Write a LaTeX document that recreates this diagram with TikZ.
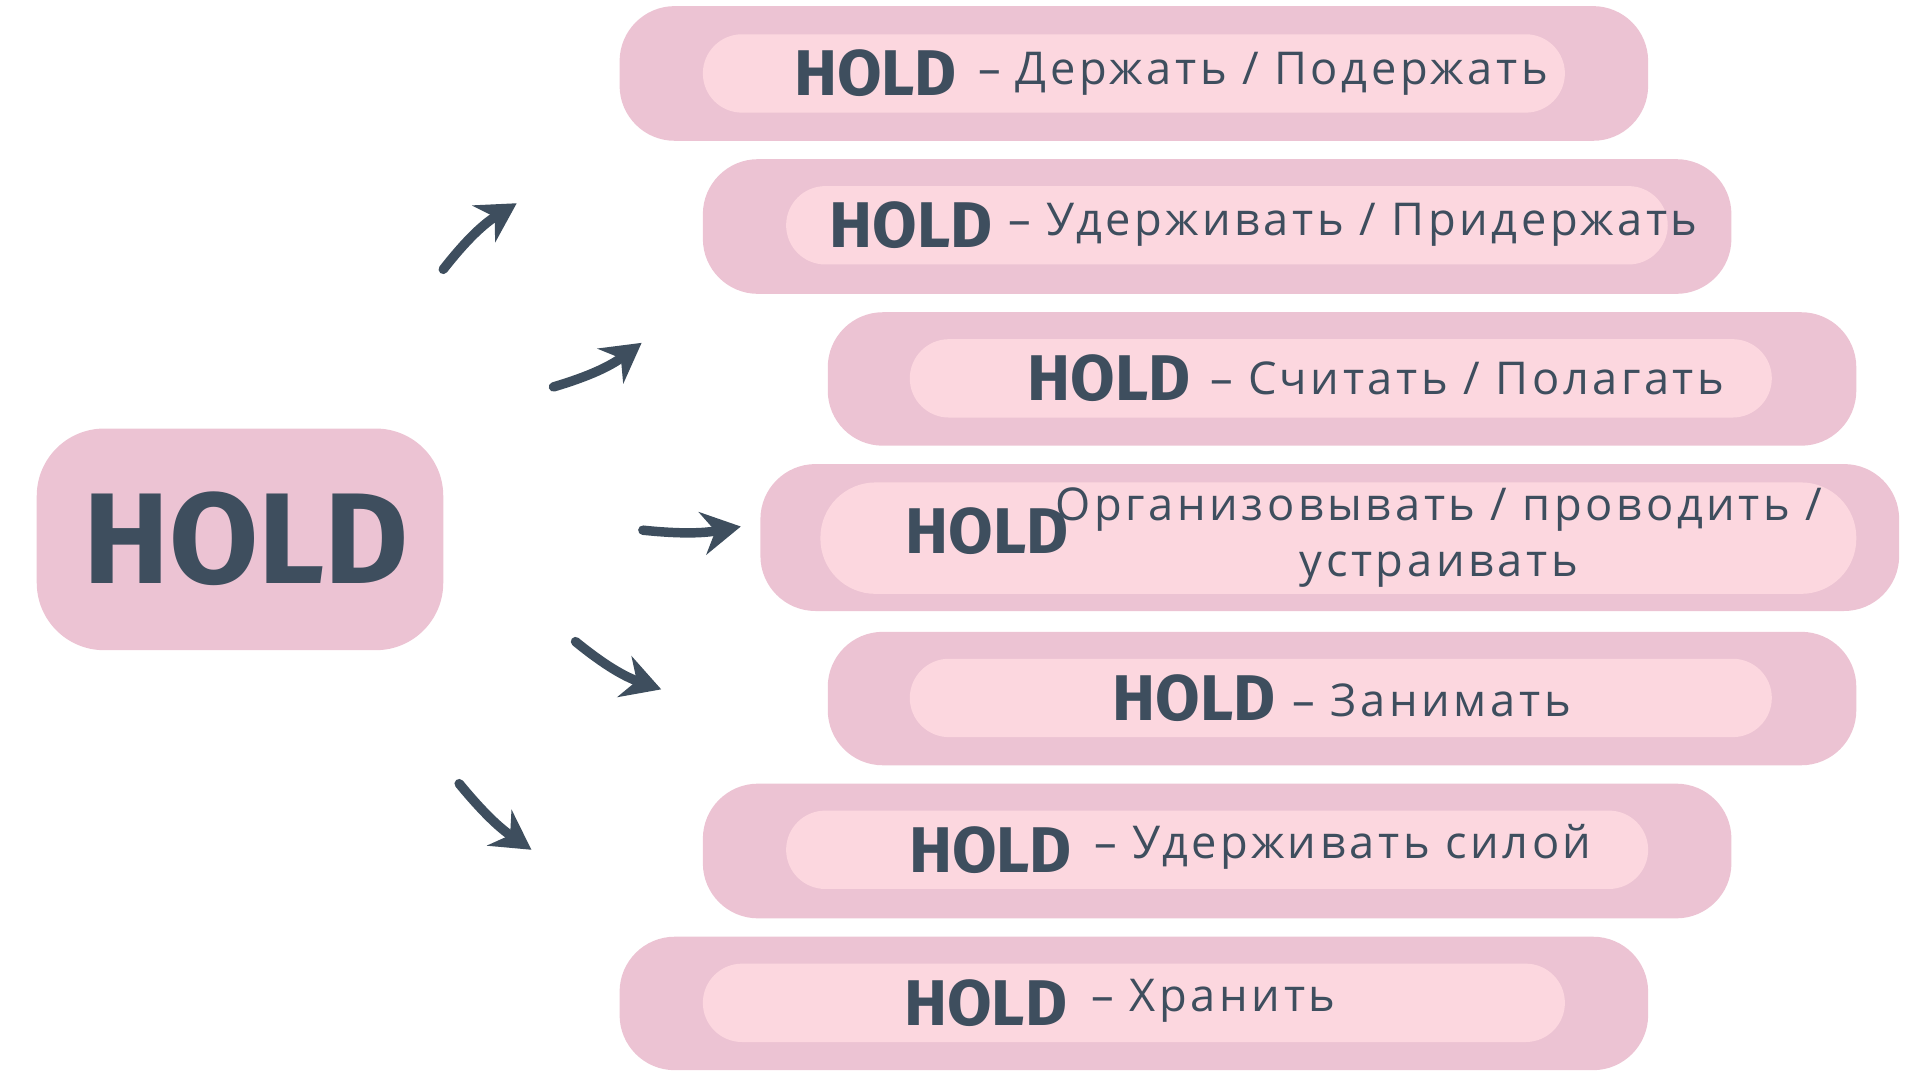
\documentclass[tikz,border=0pt]{standalone}
\usepackage{fontspec}
\setmainfont{Open Sans}
\newfontfamily\holdfont{Fira Sans}
\usetikzlibrary{arrows.meta}
\definecolor{outerpink}{HTML}{ECC3D3}
\definecolor{innerpink}{HTML}{FCD7DF}
\definecolor{ink}{HTML}{3E4E5E}

\begin{document}
\begin{tikzpicture}[x=0.01cm,y=-0.01cm]
    \tikzstyle{outerbox}=[fill=outerpink,rounded corners=0.45cm]
    \tikzstyle{innerbox}=[fill=innerpink,rounded corners=0.32cm]
    \tikzstyle{word}=[text=ink,font=\holdfont\bfseries\fontsize{15}{15}\selectfont,anchor=center,inner sep=0pt]
    \tikzstyle{gloss}=[text=ink,font=\fontsize{10.5}{13}\selectfont\addfontfeatures{LetterSpace=8},anchor=west,inner sep=0pt]
    \tikzstyle{curvyarrow}=[ink,line width=2.2pt,line cap=round,-{Stealth[length=9pt,width=10pt,inset=3pt]}]
    \useasboundingbox (0,0) rectangle (1568,880);

    % central word
    \fill[outerpink,rounded corners=0.55cm] (30,350) rectangle (362,531);
    \node (hold)[word,font=\holdfont\bfseries\fontsize{30}{30}\selectfont] at (201,440) {HOLD};

    % meanings
    \fill[outerbox] (506,5) rectangle (1346,115);
    \fill[innerbox] (574,28) rectangle (1278,92);
    \node (h1)[word] at (715,60) {HOLD};
    \node (g1)[gloss] at (798,60) {– Держать / Подержать};

    \fill[outerbox] (574,130) rectangle (1414,240);
    \fill[innerbox] (642,152) rectangle (1362,216);
    \node (h2)[word] at (744,184) {HOLD};
    \node (g2)[gloss] at (823,184) {– Удерживать / Придержать};

    \fill[outerbox] (676,255) rectangle (1516,364);
    \fill[innerbox] (743,277) rectangle (1447,341);
    \node (h3)[word] at (906,309) {HOLD};
    \node (g3)[gloss] at (988,309) {– Считать / Полагать};

    \fill[outerbox] (621,379) rectangle (1551,499);
    \fill[innerbox,rounded corners=0.45cm] (670,394) rectangle (1516,485);
    \node (h4)[word] at (806,434) {HOLD};
    \node (g4)[gloss,anchor=center,align=center] at (1175,439) {Организовывать / проводить /\\устраивать};

    \fill[outerbox] (676,516) rectangle (1516,625);
    \fill[innerbox] (743,538) rectangle (1447,602);
    \node (h5)[word] at (975,570) {HOLD};
    \node (g5)[gloss] at (1055,572) {– Занимать};

    \fill[outerbox] (574,640) rectangle (1414,750);
    \fill[innerbox] (642,662) rectangle (1346,726);
    \node (h6)[word] at (809,694) {HOLD};
    \node (g6)[gloss] at (893,692) {– Удерживать силой};

    \fill[outerbox] (506,765) rectangle (1346,874);
    \fill[innerbox] (574,787) rectangle (1278,851);
    \node (h7)[word] at (805,819) {HOLD};
    \node (g7)[gloss] at (891,817) {– Хранить};

    % arrows
    \coordinate (a1) at (362,220); \coordinate (b1) at (422,166);
    \coordinate (a2) at (452,316); \coordinate (b2) at (524,280);
    \coordinate (a3) at (525,433); \coordinate (b3) at (605,430);
    \coordinate (a4) at (470,524); \coordinate (b4) at (540,563);
    \coordinate (a5) at (375,640); \coordinate (b5) at (434,694);
    \draw[curvyarrow] (a1) to[bend left=10] (b1);
    \draw[curvyarrow] (a2) to[bend right=10] (b2);
    \draw[curvyarrow] (a3) to[bend right=8] (b3);
    \draw[curvyarrow] (a4) to[bend right=10] (b4);
    \draw[curvyarrow] (a5) to[bend right=8] (b5);
\end{tikzpicture}
\end{document}
